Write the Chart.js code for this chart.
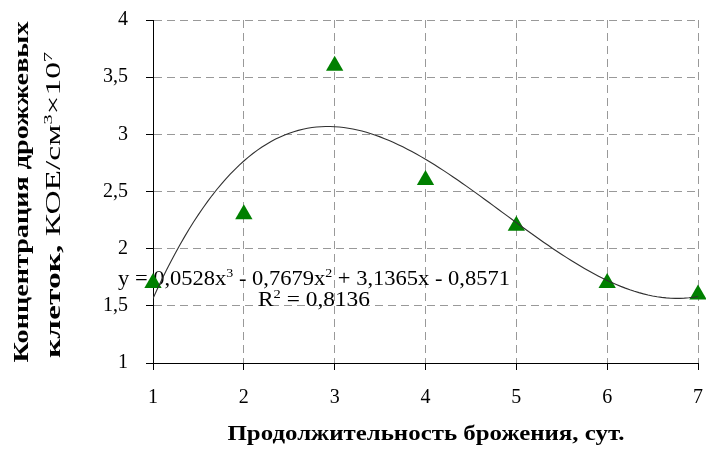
<!DOCTYPE html>
<html>
<head>
<meta charset="utf-8">
<script src="https://cdn.jsdelivr.net/npm/chart.js@4.4.1/dist/chart.umd.min.js"></script>
<style>
body { margin: 0; background: #fff; }
</style>
</head>
<body>
<canvas id="chart" width="706" height="453"></canvas>
<script>
// Data
var days = [1, 2, 3, 4, 5, 6, 7];
var yeast = [1.7, 2.3, 3.6, 2.6, 2.2, 1.7, 1.6];
// trendline printed on the chart: x^3, x^2, x, const
var trendCoef = [0.0528, -0.7679, 3.1365, -0.8571];
var yMin = 1, yMax = 4, yStep = 0.5;
var xMin = 1, xMax = 7;

var serif = '"Liberation Serif", "Times New Roman", serif';

// trend curve from the printed polynomial
var trendPts = [];
for (var i = 0; i <= 120; i++) {
  var x = xMin + (xMax - xMin) * i / 120;
  var y = trendCoef[0] * x * x * x + trendCoef[1] * x * x + trendCoef[2] * x + trendCoef[3];
  trendPts.push({x: x, y: y});
}

function fontFor(r, size) {
  var s = r.sup ? Math.round(size * 0.62) : size;
  return (r.bold ? 'bold ' : '') + s + 'px ' + serif;
}

// draws a row of text runs centred at (cx, cy=baseline), squeezed/stretched to target width
function drawRuns(ctx, runs, size, cx, cy, target, rot) {
  ctx.save();
  ctx.translate(cx, cy);
  if (rot) ctx.rotate(-Math.PI / 2);
  var total = 0;
  runs.forEach(function (r) {
    ctx.font = fontFor(r, size);
    r.w = ctx.measureText(r.t).width;
    total += r.w;
  });
  var k = target ? target / total : 1;
  ctx.scale(k, 1);
  var x = -total / 2;
  ctx.textAlign = 'left';
  ctx.textBaseline = 'alphabetic';
  ctx.fillStyle = '#000';
  runs.forEach(function (r) {
    ctx.font = fontFor(r, size);
    ctx.fillText(r.t, x, r.sup ? -size * 0.38 : 0);
    x += r.w;
  });
  ctx.restore();
}

var labelsPlugin = {
  id: 'labels',
  beforeDatasetsDraw: function (chart) {
    var ctx = chart.ctx;
    drawRuns(ctx, [
      {t: 'y = 0,0528x'}, {t: '3', sup: true}, {t: ' - 0,7679x'}, {t: '2', sup: true},
      {t: ' + 3,1365x - 0,8571'}
    ], 21, 314, 285, 392);
    drawRuns(ctx, [{t: 'R'}, {t: '2', sup: true}, {t: ' = 0,8136'}], 21, 314, 306, 112);
  },
  afterDraw: function (chart) {
    var ctx = chart.ctx;
    drawRuns(ctx, [{t: 'Продолжительность брожения, сут.', bold: true}], 20, 426, 440, 397);
    drawRuns(ctx, [{t: 'Концентрация дрожжевых', bold: true}], 20, 28, 192, 341, true);
    drawRuns(ctx, [
      {t: 'клеток, ', bold: true}, {t: 'КОЕ/см'}, {t: '3', sup: true}, {t: '×10'}, {t: '7', sup: true}
    ], 20, 60, 205, 306, true);
  }
};

var gridOpts = {
  color: '#999999',
  lineWidth: 1,
  tickLength: 7,
  tickColor: '#000'
};

new Chart(document.getElementById('chart'), {
  type: 'scatter',
  data: {
    datasets: [
      {
        type: 'line',
        data: trendPts,
        borderColor: '#303030',
        borderWidth: 1.1,
        pointRadius: 0,
        tension: 0,
        fill: false,
        order: 0
      },
      {
        data: days.map(function (d, i) { return {x: d, y: yeast[i]}; }),
        pointStyle: 'triangle',
        pointRadius: 10,
        backgroundColor: '#008000',
        borderColor: '#008000',
        borderWidth: 0,
        clip: false,
        order: 1
      }
    ]
  },
  options: {
    responsive: false,
    animation: false,
    devicePixelRatio: 1,
    layout: {
      autoPadding: false,
      padding: {top: 20, right: 8, left: 0, bottom: 0}
    },
    plugins: {
      legend: {display: false},
      tooltip: {enabled: false}
    },
    scales: {
      x: {
        type: 'linear',
        min: xMin,
        max: xMax,
        ticks: {
          stepSize: 1,
          color: '#000',
          padding: 16,
          font: {family: serif, size: 20}
        },
        grid: gridOpts,
        border: {display: true, color: '#000', width: 1, dash: [8, 5]},
        afterFit: function (s) {
          s.height = 90;
          s.paddingLeft = 0;
          s.paddingRight = 0;
        }
      },
      y: {
        min: yMin,
        max: yMax,
        ticks: {
          stepSize: yStep,
          color: '#000',
          padding: 18,
          font: {family: serif, size: 20},
          callback: function (v) { return String(v).replace('.', ','); }
        },
        grid: gridOpts,
        border: {display: true, color: '#000', width: 1, dash: [8, 5]},
        afterFit: function (s) {
          s.width = 153;
          s.paddingTop = 0;
          s.paddingBottom = 0;
        }
      }
    }
  },
  plugins: [labelsPlugin]
});
</script>
</body>
</html>
